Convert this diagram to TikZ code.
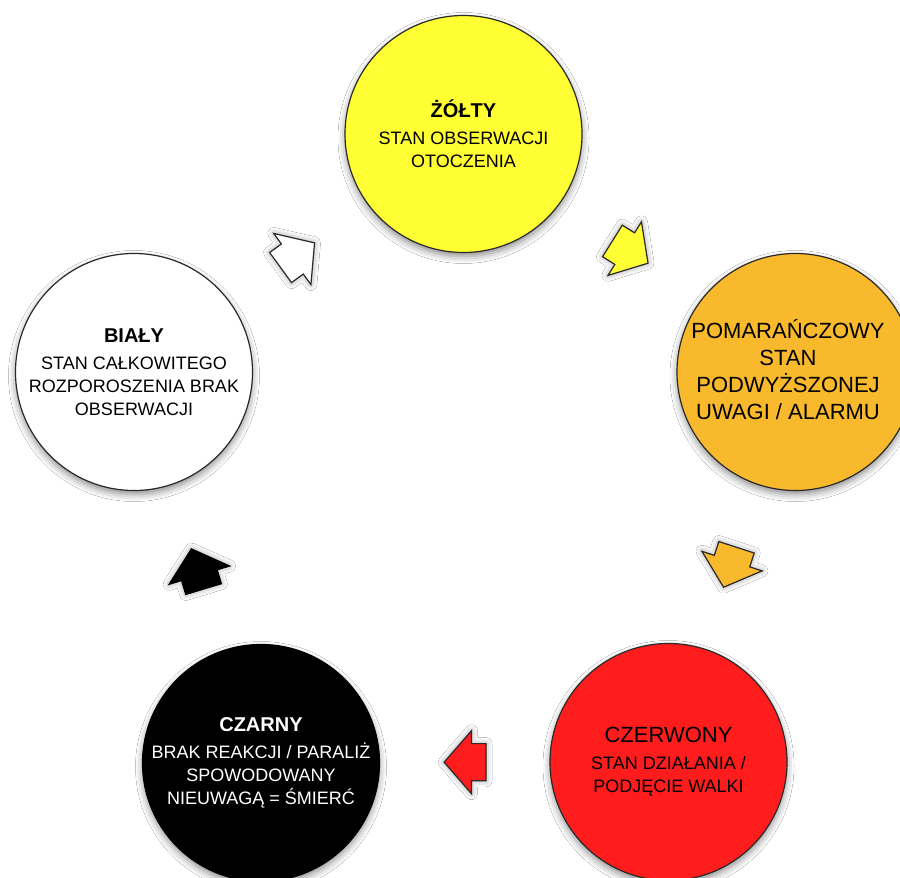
\documentclass[tikz,border=0pt]{standalone}
\usepackage{fontspec}
\setmainfont{Liberation Sans}
\usetikzlibrary{shapes.arrows,shadows.blur}

\definecolor{stateyellow}{HTML}{FFFF33}
\definecolor{stateorange}{HTML}{F9B92C}
\definecolor{statered}{HTML}{FF1C1C}
\definecolor{rim}{HTML}{2A2A2A}

\newcommand\headbold{\bfseries\fontsize{20}{23}\selectfont}
\newcommand\headplain{\fontsize{22}{23}\selectfont}

\tikzset{
  softshadow/.style={blur shadow={shadow xshift=0pt, shadow yshift=-4pt,
      shadow blur radius=7pt, shadow opacity=45}},
  arrowshadow/.style={blur shadow={shadow xshift=0pt, shadow yshift=0pt,
      shadow blur radius=6pt, shadow opacity=40}},
  state/.style={circle, draw=rim, line width=1.2pt, minimum size=237pt,
      inner sep=0pt, align=center, softshadow,
      font=\fontsize{18}{23}\selectfont},
  % shaft 36pt wide, head 62pt wide, 42pt from tail to tip
  flow/.style={single arrow, draw=rim, line width=1.2pt,
      minimum height=42pt, inner xsep=0pt, inner ysep=18pt,
      single arrow head extend=13pt, single arrow tip angle=98,
      anchor=tip, arrowshadow},
  label/.style={align=center, inner sep=0pt}
}

\begin{document}
\begin{tikzpicture}[x=1pt, y=-1pt]
  \useasboundingbox[fill=white] (0,0) rectangle (900,878);

  % the five states, clockwise from the top
  \node[state, fill=stateyellow] (yellow) at (463.5,134)
    {{\headbold ŻÓŁTY}\\[4pt]STAN OBSERWACJI\\OTOCZENIA};
  \node[state, fill=stateorange] (orange) at (795.5,372) {};
  \node[label, font=\fontsize{22}{27}\selectfont] (orangetext) at (788,370)
    {POMARAŃCZOWY\\STAN\\PODWYŻSZONEJ\\UWAGI / ALARMU};
  \node[state, fill=statered] (red) at (668.5,762)
    {{\headplain CZERWONY}\\[4pt]STAN DZIAŁANIA /\\PODJĘCIE WALKI};
  \node[state, fill=black, draw=black, text=white] (black) at (261,763)
    {{\headbold CZARNY}\\[4pt]BRAK REAKCJI / PARALIŻ\\SPOWODOWANY\\NIEUWAGĄ = ŚMIERĆ};
  \node[state, fill=white] (white) at (134,372)
    {{\headbold BIAŁY}\\[4pt]STAN CAŁKOWITEGO\\ROZPOROSZENIA BRAK\\OBSERWACJI};

  % block arrows between the states, placed by their tips
  \node[flow, fill=stateyellow, rotate=-32] (toorange) at (648.7,263.6) {};
  \node[flow, fill=stateorange, rotate=-108] (tored) at (723.3,588) {};
  \node[flow, fill=statered, rotate=180] (toblack) at (443.3,762.2) {};
  \node[flow, fill=black, draw=black, rotate=106.8] (towhite) at (191.2,548.1) {};
  \node[flow, fill=white, rotate=36] (toyellow) at (315.2,242.4) {};
\end{tikzpicture}
\end{document}
